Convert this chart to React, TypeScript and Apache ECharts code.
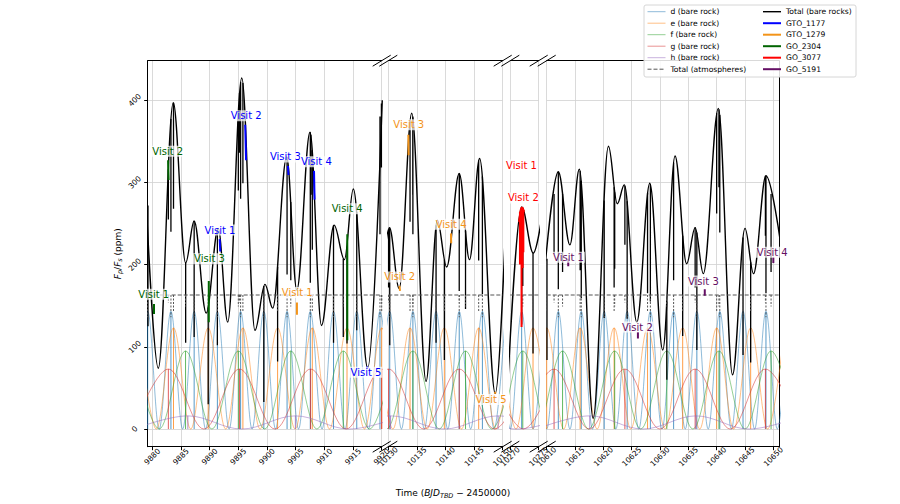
import React, { useEffect, useRef } from "react";
import * as echarts from "echarts";

const FONT = "DejaVu Sans";

// observing windows on the broken time axis (BJD_TBD - 2450000)
const segMin = [9879.2, 10130, 10270, 10610];
const segMax = [9920, 10150, 10275, 10651];

// sub-plot layout (px)
const gridLeft = [147.7, 388.3, 510.3, 546.7];
const gridWidth = [234, 114.4, 28.4, 232.3];
const gridTop = 60.7;
const gridHeight = 386;
const yMin = -21.5;
const yMax = 448;

// bare rock phase curves: maxima (secondary eclipse) and minima times
const dPeaks = [9879.2, 9883.25, 9887.3, 9891.35, 9895.4, 9899.45, 9903.5, 9907.55, 9911.6, 9915.65, 9919.7, 10130.25, 10134.3, 10138.35, 10142.4, 10146.45, 10150.5, 10267.95, 10272.0, 10276.05, 10608.0, 10612.05, 10616.1, 10620.15, 10624.2, 10628.3, 10632.4, 10636.5, 10640.55, 10644.65, 10648.7, 10652.75];
const dTroughs = [9877.2, 9881.2, 9885.3, 9889.3, 9893.4, 9897.4, 9901.5, 9905.5, 9909.6, 9913.6, 9917.7, 9921.7, 10128.2, 10132.3, 10136.3, 10140.4, 10144.4, 10148.5, 10270.0, 10274.0, 10610.0, 10614.1, 10618.1, 10622.2, 10626.25, 10630.35, 10634.45, 10638.5, 10642.6, 10646.7, 10650.7];
const ePeaks = [9877.65, 9883.7, 9889.75, 9895.8, 9901.85, 9907.9, 9913.95, 9920.0, 10127.8, 10133.8, 10139.8, 10145.8, 10151.8, 10268.0, 10274.0, 10610.0, 10615.9, 10621.9, 10627.8, 10634.0, 10640.0, 10646.0, 10652.0];
const eTroughs = [9880.7, 9886.7, 9892.8, 9898.8, 9904.9, 9910.9, 9917.0, 9923.0, 10130.8, 10136.8, 10142.8, 10148.8, 10271.0, 10277.0, 10607.0, 10613.0, 10618.9, 10624.85, 10630.9, 10637.0, 10643.0, 10649.0];
const fPeaks = [9876.6, 9885.8, 9895.0, 9904.15, 9913.3, 9922.5, 10125.1, 10134.3, 10143.5, 10152.7, 10263.0, 10272.2, 10281.4, 10603.6, 10612.8, 10622.0, 10631.2, 10640.4, 10649.6];
const fTroughs = [9881.2, 9890.4, 9899.6, 9908.7, 9917.9, 10129.7, 10138.9, 10148.1, 10267.6, 10276.8, 10608.2, 10617.4, 10626.6, 10635.8, 10645.0, 10654.2];
const gPeaks = [9882.8, 9895.2, 9907.6, 9920.0, 10130.05, 10142.4, 10154.75, 10266.1, 10278.5, 10611.3, 10623.8, 10636.2, 10648.6];
const gTroughs = [9876.6, 9889.0, 9901.4, 9913.8, 9926.2, 10123.9, 10136.2, 10148.6, 10272.3, 10605.1, 10617.5, 10630.0, 10642.4, 10654.8];
const hPeaks = [9886.2, 9904.95, 9923.7, 10130.4, 10149.2, 10261.8, 10280.6, 10617.6, 10636.35, 10655.1];
const hTroughs = [9876.8, 9895.6, 9914.3, 10121.0, 10139.8, 10158.6, 10271.2, 10608.2, 10627.0, 10645.7];

// peak flux (ppm) of each bare rock curve and its eclipse depth with atmospheres
const planetAmp = [143, 123, 95, 73, 16];
const atmDepth = [27, 20, 14, 9, 0];

// total bare rock curve: its maxima and minima [time, ppm]
const totalPoints = [
  [9878.9, 282], [9881.05, 74], [9883.66, 397], [9885.82, 202], [9887.3, 253], [9889.4, 141], [9891.5, 244],
  [9893.15, 130], [9895.6, 427], [9897.9, 120], [9899.65, 176], [9901.0, 147], [9903.43, 331], [9905.2, 169],
  [9907.5, 361], [9909.5, 126], [9911.7, 248], [9913.5, 206], [9915.05, 292], [9917.56, 74], [9920.1, 400],
  [10128.8, 180], [10130.2, 245], [10131.9, 171], [10134.1, 384], [10136.6, 58], [10138.57, 254], [10140.2, 197],
  [10142.4, 311], [10144.2, 206], [10145.96, 329], [10148.7, 43], [10150.8, 300],
  [10269.6, 60], [10272.0, 270], [10274.05, 214], [10275.6, 260],
  [10609.8, 204], [10612.05, 313], [10614.1, 224], [10615.76, 316], [10618.2, 13], [10620.9, 344], [10622.46, 274],
  [10623.7, 297], [10625.9, 130], [10628.2, 299], [10630.48, 96], [10632.65, 332], [10634.7, 201], [10636.2, 245],
  [10637.64, 189], [10640.3, 390], [10642.8, 66], [10645.0, 244], [10646.5, 189], [10648.7, 308], [10651.3, 225],
];

// eclipse drops of the total curve [time, from, to]
const totalDips = [
  [9879.25, 272, 125], [9882.8, 316, 255], [9883.25, 377, 240], [9883.7, 397, 268], [9885.82, 202, 105],
  [9887.3, 253, 112], [9889.75, 148, 30], [9891.35, 243, 102], [9895.0, 385, 290], [9895.2, 409, 336],
  [9895.4, 422, 280], [9895.8, 421, 299], [9899.45, 174, 33], [9901.85, 197, 82], [9903.5, 331, 188],
  [9904.15, 276, 181], [9907.55, 361, 178], [9907.65, 358, 285], [9907.9, 339, 218], [9911.6, 248, 105],
  [9913.3, 207, 112], [9913.95, 222, 104], [9915.65, 264, 120], [9919.7, 380, 237], [9919.95, 396, 318],
  [10130.05, 243, 172], [10130.25, 245, 102], [10133.8, 374, 252], [10134.28, 380, 285], [10134.3, 379, 237],
  [10138.35, 248, 105], [10139.8, 206, 84], [10142.4, 311, 168], [10142.42, 311, 238], [10143.5, 241, 146],
  [10145.8, 327, 205], [10146.45, 307, 164],
  [10272.0, 270, 127], [10272.2, 269, 174], [10274.0, 214, 92],
  [10610.05, 207, 84], [10611.3, 286, 213], [10612.05, 313, 170], [10612.8, 286, 191], [10615.9, 314, 193],
  [10616.1, 302, 159], [10620.15, 278, 135], [10621.9, 294, 172], [10622.0, 288, 195], [10623.8, 296, 224],
  [10624.2, 277, 134], [10627.8, 287, 165], [10628.3, 298, 155], [10631.2, 155, 60], [10632.4, 324, 181],
  [10634.0, 235, 113], [10636.2, 245, 172], [10636.5, 239, 96], [10640.0, 384, 262], [10640.4, 389, 294],
  [10640.55, 382, 239], [10644.65, 233, 90], [10646.0, 203, 81], [10648.6, 308, 235], [10648.7, 308, 165],
  [10649.6, 286, 191],
];

// total with atmospheres (ppm)
const atmLevel = 163;

// observed visits [t0, v0, t1, v1]
const gto1177Visits = [[9891.75, 231, 9891.85, 216], [9896.2, 370, 9896.35, 327], [9903.65, 320, 9903.75, 309], [9908.2, 314, 9908.3, 279], [9917.4, 76, 9917.55, 74]];
const gto1279Visits = [[9905.22, 154, 9905.22, 139], [10131.95, 174, 10132.05, 168], [10133.5, 358, 10133.55, 333], [10140.95, 238, 10141.0, 226], [10148.6, 45, 10148.75, 43]];
const go2304Visits = [[9880.3, 152, 9880.3, 140], [9882.75, 327, 9882.85, 303], [9889.85, 180, 9889.85, 130], [9914.0, 237, 9914.0, 108]];
const go3077Visits = [
  [10271.55, 252, 10271.8, 266], [10271.8, 266, 10272.1, 270], [10272.1, 270, 10272.45, 264],
  [10271.7, 264, 10271.7, 200], [10271.98, 270, 10271.98, 124], [10272.18, 269, 10272.18, 196], [10272.3, 267, 10272.3, 215],
];
const go5191Visits = [[10613.8, 207, 10613.8, 198], [10626.1, 118, 10626.1, 110], [10637.9, 170, 10637.9, 162], [10650.0, 209, 10650.0, 202]];

// visit labels [program, text, time, ppm]
const visitLabels: [string, string, number, number][] = [
  ["GTO_1177", "Visit 1", 9891.8, 242], ["GTO_1177", "Visit 2", 9896.37, 381], ["GTO_1177", "Visit 3", 9903.2, 331],
  ["GTO_1177", "Visit 4", 9908.6, 325], ["GTO_1177", "Visit 5", 9917.26, 69],
  ["GTO_1279", "Visit 1", 9905.27, 166], ["GTO_1279", "Visit 2", 10131.99, 185], ["GTO_1279", "Visit 3", 10133.58, 370],
  ["GTO_1279", "Visit 4", 10140.98, 249], ["GTO_1279", "Visit 5", 10147.98, 36],
  ["GO_2304", "Visit 1", 9880.26, 164], ["GO_2304", "Visit 2", 9882.7, 338], ["GO_2304", "Visit 3", 9889.97, 207],
  ["GO_2304", "Visit 4", 9913.98, 268],
  ["GO_3077", "Visit 1", 10271.98, 321], ["GO_3077", "Visit 2", 10272.3, 281],
  ["GO_5191", "Visit 1", 10613.85, 209], ["GO_5191", "Visit 2", 10626.0, 124], ["GO_5191", "Visit 3", 10637.65, 180],
  ["GO_5191", "Visit 4", 10649.8, 215],
];

const planets = [
  { name: "d (bare rock)", peaks: dPeaks, troughs: dTroughs, rgb: "31,119,180" },
  { name: "e (bare rock)", peaks: ePeaks, troughs: eTroughs, rgb: "255,127,14" },
  { name: "f (bare rock)", peaks: fPeaks, troughs: fTroughs, rgb: "44,160,44" },
  { name: "g (bare rock)", peaks: gPeaks, troughs: gTroughs, rgb: "214,39,40" },
  { name: "h (bare rock)", peaks: hPeaks, troughs: hTroughs, rgb: "148,103,189" },
];

const programs = [
  { name: "GTO_1177", color: "#0000ff", visits: gto1177Visits },
  { name: "GTO_1279", color: "#f39419", visits: gto1279Visits },
  { name: "GO_2304", color: "#006400", visits: go2304Visits },
  { name: "GO_3077", color: "#ff0000", visits: go3077Visits },
  { name: "GO_5191", color: "#640f64", visits: go5191Visits },
];

const inSeg = (t: number, s: number, pad = 0) => t >= segMin[s] - pad && t <= segMax[s] + pad;

// vertical / short segments as one broken polyline
const broken = (segs: number[][]) => {
  const out: any[] = [];
  segs.forEach(([t0, v0, t1, v1]) => out.push([t0, v0], [t1, v1], [t1, "-"]));
  return out;
};

const rich = {
  n: { fontFamily: FONT, fontSize: 9, lineHeight: 12, color: "#000" },
  it: { fontFamily: FONT, fontSize: 9, lineHeight: 12, fontStyle: "italic", color: "#000" },
  sub: { fontFamily: FONT, fontSize: 6.5, fontStyle: "italic", verticalAlign: "bottom", color: "#000" },
};

const buildOption = () => {
  const grid = segMin.map((_, s) => ({ left: gridLeft[s], width: gridWidth[s], top: gridTop, height: gridHeight }));
  const axisLineStyle = { color: "#000", width: 1 };
  const splitLine = { show: true, lineStyle: { color: "#d0d0d0", width: 0.8 } };

  const xAxis: any[] = segMin.map((_, s) => ({
    type: "value", gridIndex: s, min: segMin[s], max: segMax[s], splitNumber: 8, minInterval: 5, maxInterval: 5,
    axisLine: { show: true, onZero: false, lineStyle: axisLineStyle },
    axisTick: { show: true, length: 3.5, lineStyle: axisLineStyle },
    axisLabel: {
      rotate: 45, fontSize: 7.5, fontFamily: FONT, color: "#000", align: "center", verticalAlign: "middle", margin: 10,
      showMinLabel: s !== 0, showMaxLabel: s !== 3, formatter: (v: number) => String(Math.round(v)),
    },
    splitLine,
  }));
  segMin.forEach((_, s) => xAxis.push({
    type: "value", gridIndex: s, position: "top", min: segMin[s], max: segMax[s],
    axisLine: { show: true, onZero: false, lineStyle: axisLineStyle },
    axisTick: { show: false }, axisLabel: { show: false }, splitLine: { show: false },
  }));

  const yAxis = segMin.map((_, s) => ({
    type: "value", gridIndex: s, min: yMin, max: yMax, splitNumber: 5, minInterval: 100, maxInterval: 100,
    position: s === 3 ? "right" : "left",
    axisLine: { show: s === 0 || s === 3, onZero: false, lineStyle: axisLineStyle },
    axisTick: { show: s === 0, length: 3.5, lineStyle: axisLineStyle },
    axisLabel: {
      show: s === 0, rotate: 45, fontSize: 7.5, fontFamily: FONT, color: "#000", align: "center", verticalAlign: "middle",
      margin: 13, showMinLabel: false, showMaxLabel: false,
    },
    splitLine,
    name: s === 0 ? "{it|F}{sub|p}{n|/}{it|F}{sub|s}{n| (ppm)}" : "",
    nameLocation: "middle", nameRotate: 90, nameGap: 24,
    nameTextStyle: { rich },
  }));

  const series: any[] = [];
  segMin.forEach((_, s) => {
    const ax = { xAxisIndex: s, yAxisIndex: s, symbol: "none", silent: true };
    planets.forEach((p, i) => {
      const pts = p.peaks.map((t) => [t, planetAmp[i]])
        .concat(p.troughs.map((t) => [t, 0]))
        .filter((q) => inSeg(q[0], s, 15))
        .sort((a, b) => a[0] - b[0]);
      series.push({ ...ax, type: "line", name: p.name, data: pts, smooth: 0.36, smoothMonotone: "x",
        lineStyle: { color: `rgba(${p.rgb},0.5)`, width: 1 }, itemStyle: { color: `rgba(${p.rgb},0.5)` }, z: 2 });
      const ecl = p.peaks.filter((t) => inSeg(t, s)).map((t) => [t, 0, t, planetAmp[i]]);
      series.push({ ...ax, type: "line", name: p.name + " eclipse", data: broken(ecl),
        lineStyle: { color: `rgba(${p.rgb},0.75)`, width: 1 }, z: 2 });
    });
    series.push({ ...ax, type: "line", name: "Total (bare rocks)", data: totalPoints.filter((q) => inSeg(q[0], s, 4)),
      smooth: 0.36, smoothMonotone: "x", lineStyle: { color: "#000", width: 1.4 }, itemStyle: { color: "#000" }, z: 3 });
    series.push({ ...ax, type: "line", name: "total eclipses",
      data: broken(totalDips.filter((d) => inSeg(d[0], s)).map(([t, a, b]) => [t, a, t, b])),
      lineStyle: { color: "#000", width: 1.3 }, z: 3 });
    series.push({ ...ax, type: "line", name: "Total (atmospheres)", data: [[segMin[s], atmLevel], [segMax[s], atmLevel]],
      lineStyle: { color: "#555", width: 1, type: [4, 2] }, itemStyle: { color: "#555" }, z: 3 });
    const atmDips: number[][] = [];
    planets.slice(0, 4).forEach((p, i) => p.peaks.filter((t) => inSeg(t, s))
      .forEach((t) => atmDips.push([t, atmLevel, t, atmLevel - atmDepth[i]])));
    series.push({ ...ax, type: "line", name: "atm eclipses", data: broken(atmDips),
      lineStyle: { color: "#555", width: 1, type: [2, 1.5] }, z: 3 });
    programs.forEach((g) => series.push({ ...ax, type: "line", name: g.name,
      data: broken(g.visits.filter((v) => inSeg(v[0], s))),
      lineStyle: { color: g.color, width: 2 }, itemStyle: { color: g.color }, z: 4 }));
    const colorOf = (n: string) => programs.find((g) => g.name === n)!.color;
    series.push({
      type: "scatter", xAxisIndex: s, yAxisIndex: s, silent: true, name: "labels",
      symbol: "circle", symbolSize: 1, clip: false, z: 6,
      itemStyle: { color: "rgba(0,0,0,0)" },
      data: visitLabels.filter((l) => inSeg(l[2], s)).map(([g, text, t, v]) => ({
        name: text, value: [t, v], label: { color: colorOf(g) },
      })),
      label: {
        show: true, position: "inside", formatter: "{b}", fontSize: 10, fontFamily: FONT, opacity: 1,
        textBorderWidth: 0, backgroundColor: "rgba(255,255,255,0.72)", padding: [1, 1, 0, 1],
      },
      labelLayout: { hideOverlap: false },
    });
  });

  const legendBase = {
    orient: "vertical", top: 7.7, itemWidth: 18, itemHeight: 8, itemGap: 3.5, padding: 0, selectedMode: false, z: 110,
    textStyle: { fontFamily: FONT, fontSize: 7.6, color: "#000", lineHeight: 8 },
    itemStyle: { opacity: 0, borderWidth: 0 }, lineStyle: { width: "inherit" },
  };

  const graphic: any[] = [
    { type: "rect", z: 100, shape: { x: 644, y: 5, width: 212, height: 72, r: 2 },
      style: { fill: "rgba(255,255,255,0.85)", stroke: "#d6d6d6", lineWidth: 1 } },
    { type: "text", z: 100, x: 453, y: 493,
      style: { text: "{n|Time (}{it|BJD}{sub|TBD}{n| − 2450000)}", rich, align: "center", verticalAlign: "middle" } },
  ];
  for (let s = 0; s < 3; s++) {
    [gridLeft[s] + gridWidth[s], gridLeft[s + 1]].forEach((x) => {
      [gridTop, gridTop + gridHeight].forEach((y) => graphic.push({
        type: "line", z: 100, shape: { x1: x - 9, y1: y + 5.5, x2: x + 9, y2: y - 5.5 },
        style: { stroke: "#000", lineWidth: 1 },
      }));
    });
  }

  return {
    animation: false,
    backgroundColor: "#fff",
    grid, xAxis, yAxis, series, graphic,
    legend: [
      { ...legendBase, left: 647, data: ["d (bare rock)", "e (bare rock)", "f (bare rock)", "g (bare rock)", "h (bare rock)", "Total (atmospheres)"] },
      { ...legendBase, left: 762, data: ["Total (bare rocks)", "GTO_1177", "GTO_1279", "GO_2304", "GO_3077", "GO_5191"] },
    ],
  };
};

const App = () => {
  const chartRef = useRef<HTMLDivElement>(null);

  useEffect(() => {
    if (!chartRef.current) return;
    const chart = echarts.init(chartRef.current, null, { renderer: "svg" });
    chart.setOption(buildOption() as any);
    return () => {
      chart.dispose();
    };
  }, []);

  return <div ref={chartRef} style={{ position: "fixed", left: 0, top: 0, width: 900, height: 504 }} />;
};

export default App;
